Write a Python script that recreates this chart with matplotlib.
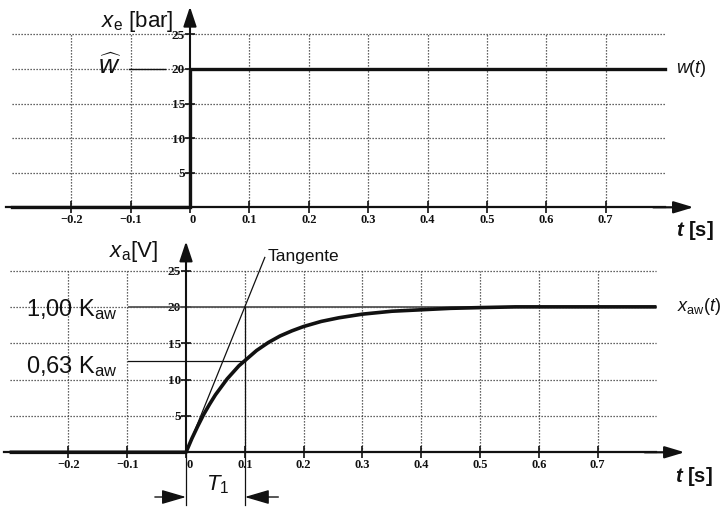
import matplotlib
matplotlib.use('Agg')
import matplotlib.pyplot as plt

plt.rcParams['font.family'] = ['Liberation Sans', 'DejaVu Sans']
plt.rcParams['mathtext.fontset'] = 'custom'
plt.rcParams['mathtext.rm'] = 'Liberation Sans'
plt.rcParams['mathtext.it'] = 'Liberation Sans:italic'
plt.rcParams['mathtext.bf'] = 'Liberation Sans:bold'
plt.rcParams['mathtext.bfit'] = 'Liberation Sans:italic:bold'

# ---------------- data ----------------
x_ticks = [-0.2, -0.1, 0.0, 0.1, 0.2, 0.3, 0.4, 0.5, 0.6, 0.7]
x_tick_labels = ['\u22120.2', '\u22120.1', '0', '0.1', '0.2', '0.3', '0.4', '0.5', '0.6', '0.7']
y_ticks = [5, 10, 15, 20, 25]
y_tick_labels = ['5', '10', '15', '20', '25']

# input step w(t)
t_w = [-0.3, 0.0, 0.0, 0.8]
w_vals = [0, 0, 20, 20]

# output x_a(t)
t_xa = [-0.3, 0.0, 0.01, 0.02, 0.03, 0.04, 0.05, 0.06, 0.07, 0.08, 0.09, 0.10,
        0.12, 0.14, 0.16, 0.18, 0.20, 0.23, 0.26, 0.30, 0.35, 0.40, 0.45, 0.50,
        0.56, 0.80]
xa_vals = [0, 0, 1.9, 3.6, 5.2, 6.6, 7.9, 9.0, 10.1, 11.0, 11.9, 12.6,
           14.0, 15.1, 16.0, 16.7, 17.3, 18.0, 18.5, 19.0, 19.4, 19.6, 19.8, 19.9,
           20.0, 20.0]

# tangent at t = 0
t_tan = [0.0, 0.134]
x_tan = [0.0, 26.8]

K_aw = 20.0
level_63 = 12.6
T1 = 0.1

GRID_KW = dict(colors='#333333', linestyles=(0, (1, 1.4)), linewidths=0.9, zorder=1)
DARK = '#111111'

fig = plt.figure(figsize=(7.25, 5.08), dpi=100)
ax1 = fig.add_axes([0.00808, 0.5715, 0.9585, 0.4222])
ax2 = fig.add_axes([0.00513, 0.0882, 0.949, 0.4437])


def setup(ax):
    ax.set_xlim(-0.31, 0.86)
    ax.set_ylim(-1.5, 29.5)
    ax.patch.set_alpha(0)
    for s in ['top', 'right']:
        ax.spines[s].set_visible(False)
    ax.spines['left'].set_position(('data', 0))
    ax.spines['bottom'].set_position(('data', 0))
    ax.spines['bottom'].set_bounds(-0.31, 0.80)
    ax.spines['left'].set_bounds(0, 27.5)
    ax.spines['bottom'].set_linewidth(1.6)
    ax.spines['left'].set_linewidth(1.5)
    ax.spines['bottom'].set_color(DARK)
    ax.spines['left'].set_color(DARK)
    ax.set_xticks(x_ticks, labels=x_tick_labels)
    ax.set_yticks(y_ticks, labels=y_tick_labels)
    ax.tick_params(axis='x', direction='inout', length=8, width=1.2, pad=1.0,
                   labelsize=9, colors=DARK)
    ax.tick_params(axis='y', direction='inout', length=7, width=1.2, pad=0.0,
                   labelsize=9.5, colors=DARK)
    for lbl in ax.get_xticklabels() + ax.get_yticklabels():
        lbl.set_fontfamily('Liberation Serif')
        lbl.set_fontweight('bold')
    for lbl in ax.get_xticklabels():
        if lbl.get_text() == '0':
            lbl.set_horizontalalignment('left')
    # grid
    ax.vlines([x for x in x_ticks if x != 0], 0, 25, **GRID_KW)
    ax.hlines(y_ticks, -0.30, 0.80, **GRID_KW)
    # axis arrows
    ax.annotate('', xy=(0.848, 0), xytext=(0.78, 0),
                arrowprops=dict(arrowstyle='-|>,head_length=0.6,head_width=0.18',
                                mutation_scale=20, color=DARK, lw=1.6,
                                shrinkA=0, shrinkB=0))
    ax.annotate('', xy=(0, 29.0), xytext=(0, 26),
                arrowprops=dict(arrowstyle='-|>,head_length=0.6,head_width=0.2',
                                mutation_scale=20, color=DARK, lw=1.5,
                                shrinkA=0, shrinkB=0))


setup(ax1)
setup(ax2)

# ---------------- top panel ----------------
ax1.plot(t_w, w_vals, color=DARK, lw=2.4, solid_joinstyle='miter', zorder=4,
         clip_on=False)
ax1.plot([-0.103, -0.042], [K_aw, K_aw], color=DARK, lw=1.0, zorder=3)
ax1.text(-0.028, 26.0, r'$x_{\mathrm{e}}$ [bar]', ha='right', va='baseline',
         fontsize=16, color=DARK)
ax1.text(-0.135, 19.2, r'$\widehat{w}$', ha='center', va='baseline',
         fontsize=19, color=DARK)
ax1.text(0.818, 20.0, r'$w(t)$', ha='left', va='center', fontsize=13, color=DARK)
ax1.text(0.818, -4.1, r'$\mathbfit{t}$ [s]', ha='left', va='baseline',
         fontsize=14.5, fontweight='bold', color=DARK)

# ---------------- bottom panel ----------------
ax2.plot([-0.097, 0.80], [K_aw, K_aw], color='#555555', lw=1.3, zorder=2)
ax2.plot([-0.099, T1], [level_63, level_63], color=DARK, lw=0.9, zorder=2)
ax2.plot([T1, T1], [-7.2, K_aw], color=DARK, lw=0.9, zorder=2, clip_on=False)
ax2.plot([0, 0], [-7.2, 0], color=DARK, lw=0.9, zorder=2, clip_on=False)
ax2.plot(t_tan, x_tan, color=DARK, lw=0.9, zorder=3)
ax2.plot(t_xa, xa_vals, color=DARK, lw=2.6, zorder=4, solid_capstyle='butt')

ax2.text(0.138, 26.9, 'Tangente', ha='left', va='center', fontsize=12.5, color=DARK)
ax2.text(-0.047, 26.8, r'$x_{\mathrm{a}}$[V]', ha='right', va='baseline',
         fontsize=16, color=DARK)
ax2.text(-0.116, 18.75, r'1,00 K$_{\mathrm{aw}}$', ha='right', va='baseline',
         fontsize=17, color=DARK)
ax2.text(-0.116, 10.9, r'0,63 K$_{\mathrm{aw}}$', ha='right', va='baseline',
         fontsize=17, color=DARK)
ax2.text(0.835, 20.0, r'$x_{\mathrm{aw}}(t)$', ha='left', va='center',
         fontsize=13, color=DARK)
ax2.text(0.832, -4.1, r'$\mathbfit{t}$ [s]', ha='left', va='baseline',
         fontsize=14.5, fontweight='bold', color=DARK)

# T1 dimension
ax2.text(0.053, -5.2, r'$T_1$', ha='center', va='baseline', fontsize=16,
         color=DARK, clip_on=False)
ax2.annotate('', xy=(0.0, -6.15), xytext=(-0.053, -6.15), annotation_clip=False,
             arrowprops=dict(arrowstyle='-|>,head_length=0.75,head_width=0.22',
                             mutation_scale=20, color=DARK, lw=1.0,
                             shrinkA=0, shrinkB=0))
ax2.annotate('', xy=(T1, -6.15), xytext=(0.157, -6.15), annotation_clip=False,
             arrowprops=dict(arrowstyle='-|>,head_length=0.75,head_width=0.22',
                             mutation_scale=20, color=DARK, lw=1.0,
                             shrinkA=0, shrinkB=0))

fig.savefig('out.png', dpi=100)
